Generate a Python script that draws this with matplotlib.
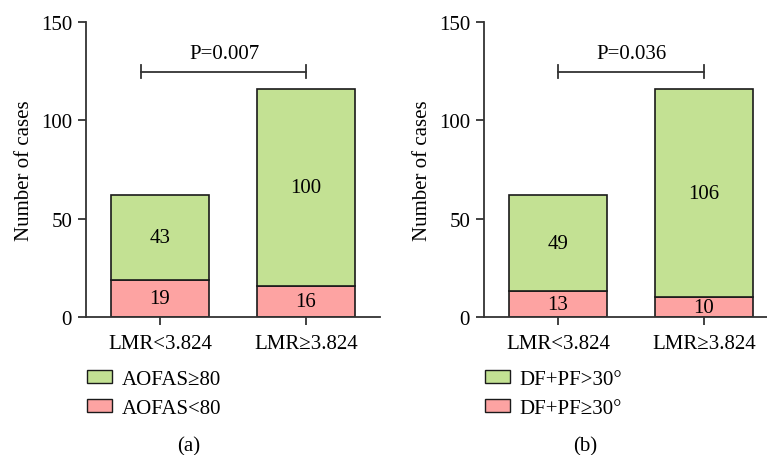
import matplotlib.pyplot as plt
from matplotlib.patches import Patch

plt.rcParams['font.family'] = ['Liberation Serif', 'DejaVu Serif']

# data
groups = ['LMR<3.824', 'LMR≥3.824']
a_low = [19, 16]
a_high = [43, 100]
b_low = [13, 10]
b_high = [49, 106]
a_labels = ['AOFAS≥80', 'AOFAS<80']
b_labels = ['DF+PF>30°', 'DF+PF≥30°']
p_values = ['P=0.007', 'P=0.036']

green = '#c3e193'
pink = '#fda3a2'
fs = 15


def draw_panel(ax, low, high, labels, ptext, bracket, caption, cap_x):
    x = [0, 1]
    ax.bar(x, low, width=0.67, color=pink, edgecolor='#1a1a1a', linewidth=1.2)
    ax.bar(x, high, width=0.67, bottom=low, color=green, edgecolor='#1a1a1a', linewidth=1.2)
    # 数值标注
    for i in range(2):
        ax.text(x[i], low[i] / 2, str(low[i]), ha='center', va='center', fontsize=fs)
        ax.text(x[i], low[i] + high[i] / 2, str(high[i]), ha='center', va='center', fontsize=fs)
    # P value bracket
    x0, x1 = bracket
    ax.plot([x0, x1], [124.6, 124.6], color='#333333', lw=1.3, clip_on=False)
    ax.plot([x0, x0], [121.5, 128], color='#333333', lw=1.3, clip_on=False)
    ax.plot([x1, x1], [121.5, 128], color='#333333', lw=1.3, clip_on=False)
    ax.text((x0 + x1) / 2 + 0.005, 129, ptext, ha='center', va='bottom', fontsize=fs)

    ax.set_xlim(-0.507, 1.507)
    ax.set_ylim(0, 150)
    ax.set_yticks([0, 50, 100, 150])
    ax.set_xticks(x)
    ax.set_xticklabels(groups)
    ax.tick_params(labelsize=fs, length=6, width=1.3, color='#333333', direction='out')
    ax.tick_params(axis='x', pad=6)
    ax.tick_params(axis='y', pad=4)
    for s in ['top', 'right']:
        ax.spines[s].set_visible(False)
    for s in ['left', 'bottom']:
        ax.spines[s].set_linewidth(1.3)
        ax.spines[s].set_color('#333333')
    ax.set_ylabel('Number of cases', fontsize=fs, labelpad=5)

    handles = [Patch(facecolor=green, edgecolor='#1a1a1a', linewidth=1.0),
               Patch(facecolor=pink, edgecolor='#1a1a1a', linewidth=1.0)]
    ax.legend(handles, labels, loc='upper left', bbox_to_anchor=(-0.025, -0.15),
              frameon=False, fontsize=fs, handlelength=1.2, handleheight=0.58,
              handletextpad=0.45, labelspacing=0.5, borderaxespad=0)
    fig.text(cap_x, 1 - 447 / 456, caption, ha='center', va='center', fontsize=fs)


fig = plt.figure(figsize=(7.67, 4.56), dpi=100)
ax1 = fig.add_axes([86 / 767, 1 - 318 / 456, 294 / 767, 295 / 456])
ax2 = fig.add_axes([484 / 767, 1 - 318 / 456, 294 / 767, 295 / 456])

draw_panel(ax1, a_low, a_high, a_labels, p_values[0], (-0.13, 1.0), '(a)', 189 / 767)
draw_panel(ax2, b_low, b_high, b_labels, p_values[1], (0.0, 1.0), '(b)', 585 / 767)

plt.savefig('out.png', dpi=100)
